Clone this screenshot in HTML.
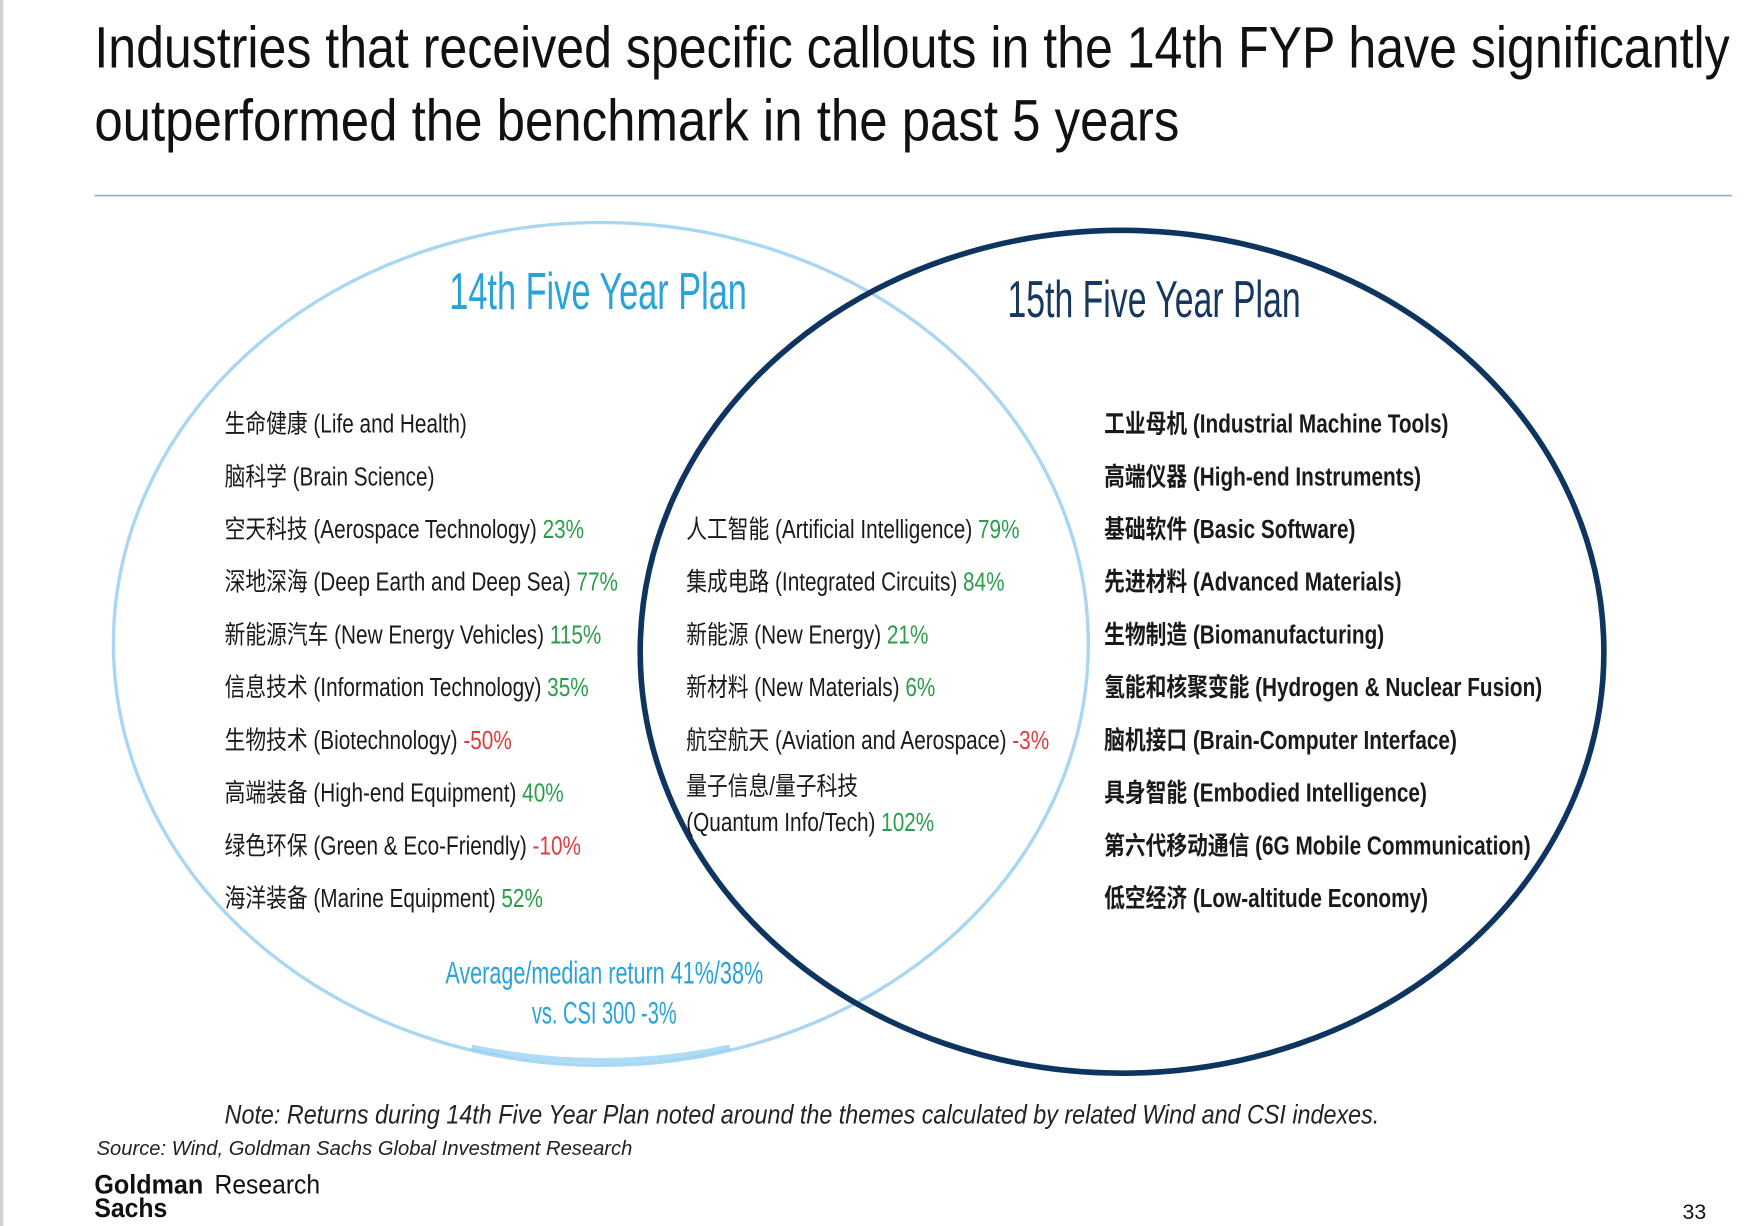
<!DOCTYPE html>
<html><head><meta charset="utf-8"><style>
html,body{margin:0;padding:0;background:#fff;width:1760px;height:1226px;overflow:hidden}
svg{display:block}
text{font-family:"Liberation Sans","Noto Sans CJK SC",sans-serif}
</style></head><body>
<svg id="chart" width="1760" height="1226" viewBox="0 0 1567 1091" preserveAspectRatio="none" xmlns="http://www.w3.org/2000/svg">
<rect x="0" y="0" width="3" height="1091" fill="#d0d0d0"/>
<text x="84" y="60" font-size="52" fill="#111" textLength="1456" lengthAdjust="spacingAndGlyphs">Industries that received specific callouts in the 14th FYP have significantly</text>
<text x="84" y="125" font-size="52" fill="#111" textLength="966" lengthAdjust="spacingAndGlyphs">outperformed the benchmark in the past 5 years</text>
<line x1="84" y1="174" x2="1542" y2="174" stroke="#8fb0d0" stroke-width="1.5"/>
<ellipse cx="535" cy="573" rx="434" ry="375" fill="none" stroke="#a9d6f2" stroke-width="3"/>
<path d="M420 932 Q535 956 650 932" fill="none" stroke="#8ccdf2" stroke-width="5" opacity="0.7"/>
<ellipse cx="999" cy="580" rx="429" ry="375" fill="none" stroke="#0d3560" stroke-width="5"/>
<text x="400" y="275" font-size="46" fill="#29a3db" textLength="265" lengthAdjust="spacingAndGlyphs">14th Five Year Plan</text>
<text x="897" y="282" font-size="46" fill="#17375e" textLength="261" lengthAdjust="spacingAndGlyphs">15th Five Year Plan</text>
<g id="items"></g>
<text x="538" y="875" font-size="28" fill="#29a3db" text-anchor="middle" textLength="283" lengthAdjust="spacingAndGlyphs">Average/median return 41%/38%</text>
<text x="538" y="911" font-size="28" fill="#29a3db" text-anchor="middle" textLength="129" lengthAdjust="spacingAndGlyphs">vs. CSI 300 -3%</text>
<text x="200" y="1000" font-size="24" font-style="italic" fill="#222" textLength="1028" lengthAdjust="spacingAndGlyphs">Note: Returns during 14th Five Year Plan noted around the themes calculated by related Wind and CSI indexes.</text>
<text x="86" y="1028" font-size="18" font-style="italic" fill="#222" textLength="477" lengthAdjust="spacingAndGlyphs">Source: Wind, Goldman Sachs Global Investment Research</text>
<text x="84" y="1062" font-size="24" font-weight="bold" fill="#111" font-family="Liberation Serif" textLength="97" lengthAdjust="spacingAndGlyphs">Goldman</text>
<text x="84" y="1083" font-size="24" font-weight="bold" fill="#111" font-family="Liberation Serif" textLength="65" lengthAdjust="spacingAndGlyphs">Sachs</text>
<text x="191" y="1062" font-size="24" fill="#111" font-family="Liberation Serif" textLength="94" lengthAdjust="spacingAndGlyphs">Research</text>
<text x="1498" y="1085" font-size="19" fill="#111">33</text>
</svg>
<script>
const leftNames = ["生命健康 (Life and Health)","脑科学 (Brain Science)","空天科技 (Aerospace Technology)","深地深海 (Deep Earth and Deep Sea)","新能源汽车 (New Energy Vehicles)","信息技术 (Information Technology)","生物技术 (Biotechnology)","高端装备 (High-end Equipment)","绿色环保 (Green & Eco-Friendly)","海洋装备 (Marine Equipment)"];
const leftReturns = [null,null,23,77,115,35,-50,40,-10,52];
const midNames = ["人工智能 (Artificial Intelligence)","集成电路 (Integrated Circuits)","新能源 (New Energy)","新材料 (New Materials)","航空航天 (Aviation and Aerospace)","量子信息/量子科技|(Quantum Info/Tech)"];
const midReturns = [79,84,21,6,-3,102];
const rightNames = ["工业母机 (Industrial Machine Tools)","高端仪器 (High-end Instruments)","基础软件 (Basic Software)","先进材料 (Advanced Materials)","生物制造 (Biomanufacturing)","氢能和核聚变能 (Hydrogen & Nuclear Fusion)","脑机接口 (Brain-Computer Interface)","具身智能 (Embodied Intelligence)","第六代移动通信 (6G Mobile Communication)","低空经济 (Low-altitude Economy)"];

const NS="http://www.w3.org/2000/svg";
const g=document.getElementById('items');
const rowY = i => 385 + i*46.9;
function addItem(x,y,name,ret,bold,key){
  const t=document.createElementNS(NS,'text');
  
  
  t.setAttribute('transform','translate('+x+','+y+') scale(0.84,1.04)');
  t.setAttribute('font-size','22');
  t.setAttribute('fill','#1a1a1a');
  if(bold) t.setAttribute('font-weight','bold');
  t.appendChild(document.createTextNode(name+' '));
  if(ret!==null && ret!==undefined){
    const s=document.createElementNS(NS,'tspan');
    
    
    s.setAttribute('fill', ret<0 ? '#e03a3a' : '#2a9d4a');
    s.textContent=ret+'%';
    t.appendChild(s);
  }
  g.appendChild(t);
}
leftNames.forEach((n,i)=>addItem(200,rowY(i),n,leftReturns[i],false,'left-item-'+i));
midNames.forEach((n,i)=>{
  const y=rowY(i+2);
  if(n.indexOf('|')>=0){
    const parts=n.split('|');
    addItem(611,y-6,parts[0],null,false,'mid-item-'+i+'-line1');
    addItem(611,y+26,parts[1],midReturns[i],false,'mid-item-'+i);
  } else addItem(611,y,n,midReturns[i],false,'mid-item-'+i);
});
rightNames.forEach((n,i)=>addItem(983,rowY(i),n,null,true,'right-item-'+i));
</script>
</body></html>
